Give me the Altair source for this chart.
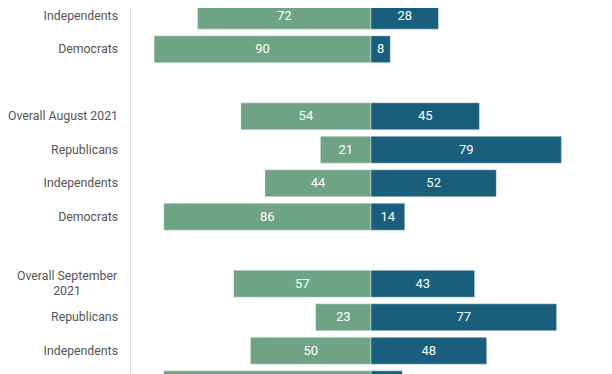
import altair as alt
import pandas as pd

row_keys = ["a_ind", "a_dem", "gap1", "b_all", "b_rep", "b_ind", "b_dem",
            "gap2", "c_all", "c_rep", "c_ind", "c_dem"]
row_labels = ["Independents", "Democrats", "", "Overall August 2021", "Republicans",
              "Independents", "Democrats", "", "Overall September\n2021", "Republicans",
              "Independents", "Democrats"]
left_vals = [72, 90, None, 54, 21, 44, 86, None, 57, 23, 50, 86]
right_vals = [28, 8, None, 45, 79, 52, 14, None, 43, 77, 48, 13]
# the last row is cut by the bottom of the picture: only its bars' top edge shows
visible_text_rows = row_keys[:-1]

GREEN = "#6ea386"
BLUE = "#1a5e7e"

recs = []
for k, lv, rv in zip(row_keys, left_vals, right_vals):
    if lv is None:
        continue
    recs.append({"key": k, "series": "left", "value": lv, "start": -lv, "end": 0})
    recs.append({"key": k, "series": "right", "value": rv, "start": 0, "end": rv})
df = pd.DataFrame(recs)

lab = pd.DataFrame({"key": row_keys, "label": row_labels})
lab["multi"] = lab["label"].str.contains("\n")
lab = lab[lab["key"].isin(visible_text_rows)]
df_txt = df[df["key"].isin(visible_text_rows)]

yenc = alt.Y("key:N", scale=alt.Scale(domain=row_keys, paddingInner=0.2, paddingOuter=0.1), axis=None)
xscale = alt.Scale(domain=[-100, 100], nice=False)

bars = alt.Chart(df).mark_bar(stroke="white", strokeWidth=0.6, strokeOpacity=0.6).encode(
    y=yenc,
    x=alt.X("start:Q", scale=xscale, axis=None),
    x2="end:Q",
    color=alt.Color("series:N", scale=alt.Scale(domain=["left", "right"], range=[GREEN, BLUE]), legend=None),
)

vals = alt.Chart(df_txt).mark_text(color="white", font="Roboto", fontSize=13).transform_calculate(
    mid="(datum.start + datum.end) / 2"
).encode(
    y=yenc,
    x=alt.X("mid:Q", scale=xscale, axis=None),
    text="value:Q",
)

labels_single = alt.Chart(lab).transform_filter("!datum.multi").mark_text(
    align="right", baseline="middle", font="Roboto", fontSize=12.3, color="#555555"
).encode(y=yenc, x=alt.value(-12), text="label:N")

labels_multi = alt.Chart(lab).transform_filter("datum.multi").mark_text(
    align="center", baseline="middle", font="Roboto", fontSize=12.3, color="#555555",
    lineBreak="\n", lineHeight=15, dy=-7.3
).encode(y=yenc, x=alt.value(-63), text="label:N")

chart = alt.layer(bars, vals, labels_single, labels_multi).properties(
    width=482,
    height=alt.Step(33.5),
    autosize=alt.AutoSizeParams(type="none"),
    padding={"left": 122, "top": -9, "right": -8, "bottom": 0},
).configure_view(stroke="#e3e3e3", strokeWidth=2).configure(background="white")

chart.save("out.html", embed_options={"renderer": "svg", "actions": False})
